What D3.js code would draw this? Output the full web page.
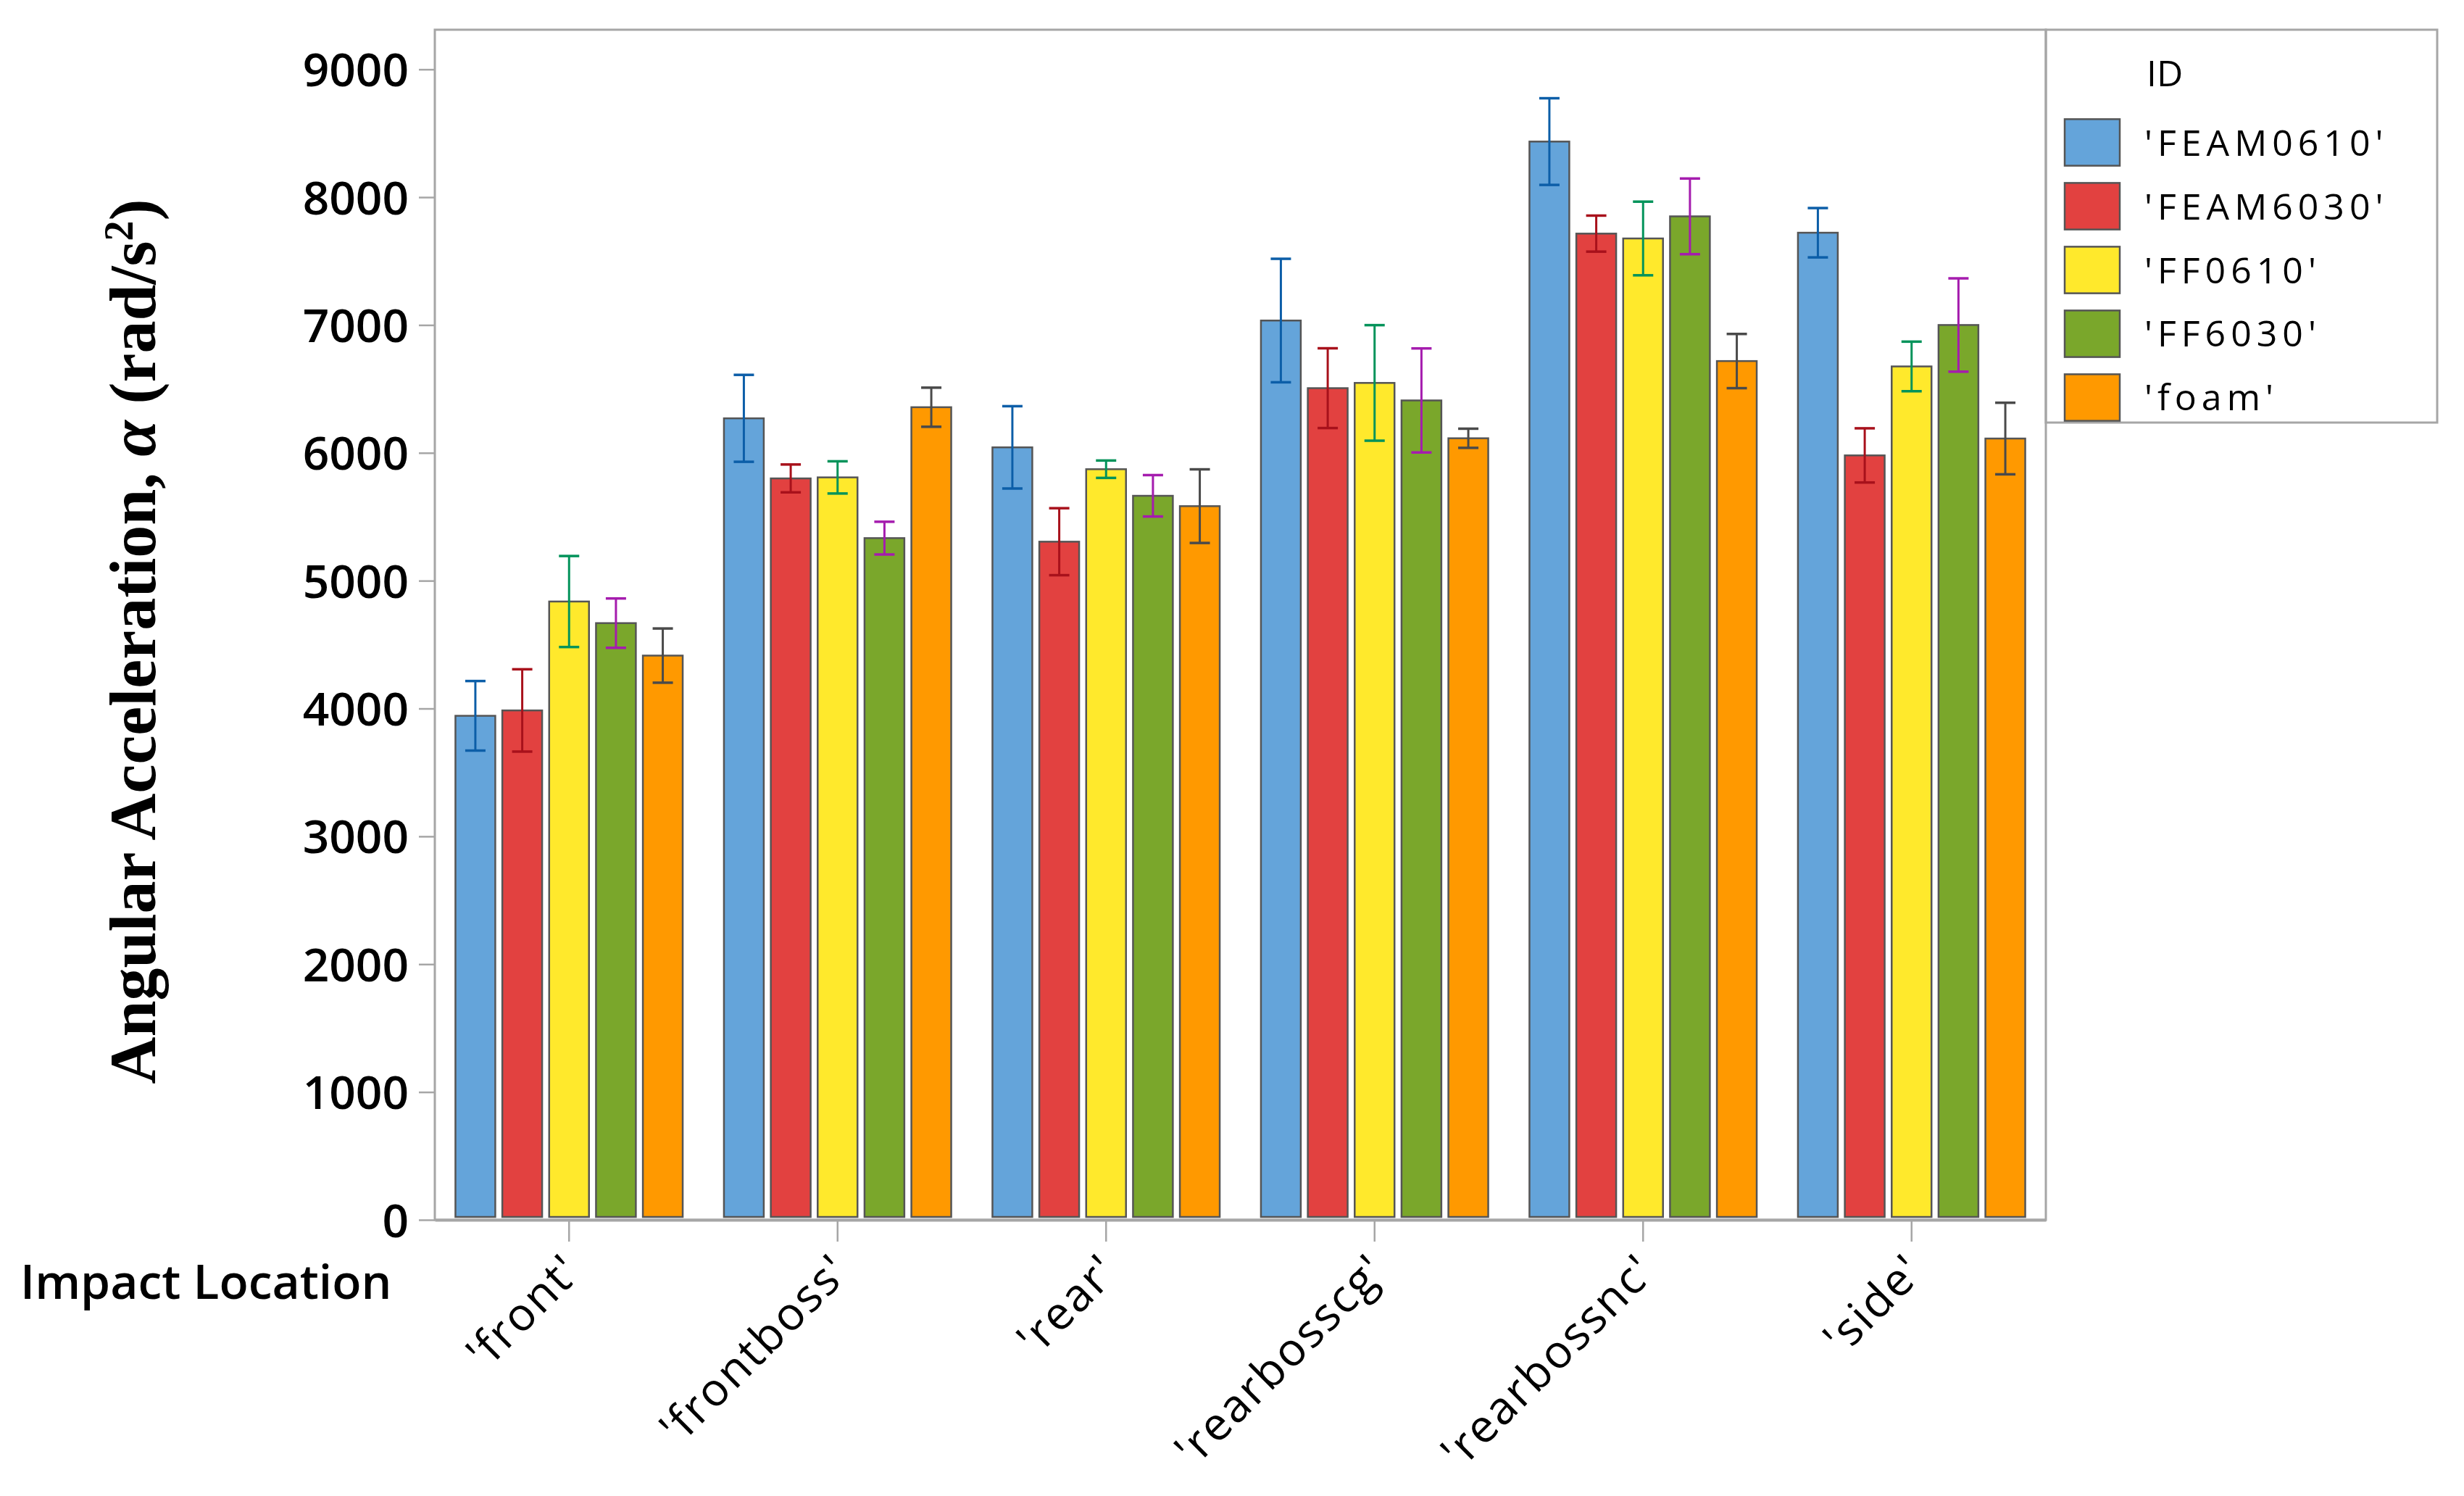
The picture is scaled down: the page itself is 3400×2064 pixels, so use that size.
<!DOCTYPE html>
<html lang="en">
<head>
  <meta charset="UTF-8">
  <title>Angular Acceleration by Impact Location</title>
  <style>
    body { margin: 0; background: #fff; }
    svg { display: block; }
    .tick-label { font-family: "Open Sans", sans-serif; font-weight: 600; font-size: 64px; fill: #000; }
    .cat-label { font-family: "Open Sans", sans-serif; font-size: 63px; letter-spacing: 2.5px; fill: #000; }
    .legend-text { font-family: "Open Sans", sans-serif; font-size: 50px; letter-spacing: 7px; fill: #000; }
    .frame { fill: none; stroke: #a6a6a6; stroke-width: 3px; }
    .bar { stroke: #555; stroke-width: 2.5px; }
  </style>
</head>
<body>
  <svg width="3400" height="2064"></svg>
  <script src="https://d3js.org/d3.v7.min.js"></script>
  <script>
    // categories along x, series ids
    const categories = ["'front'", "'frontboss'", "'rear'", "'rearbosscg'", "'rearbossnc'", "'side'"];
    const ids = ["'FEAM0610'", "'FEAM6030'", "'FF0610'", "'FF6030'", "'foam'"];

    // mean angular acceleration (rad/s^2), one array per ID
    const feam0610 = [3943, 6270, 6043, 7035, 8435, 7722];
    const feam6030 = [3985, 5800, 5305, 6506, 7715, 5980];
    const ff0610   = [4837, 5808, 5872, 6547, 7677, 6676];
    const ff6030   = [4668, 5333, 5664, 6410, 7850, 7000];
    const foam     = [4414, 6357, 5583, 6114, 6718, 6112];

    // half-width of the error bars
    const errFeam0610 = [272, 340, 322, 483, 339, 193];
    const errFeam6030 = [322, 109, 262, 312, 141, 212];
    const errFf0610   = [356, 126, 68, 452, 288, 194];
    const errFf6030   = [193, 128, 162, 407, 296, 365];
    const errFoam     = [212, 153, 288, 75, 212, 280];

    const yTicks = [0, 1000, 2000, 3000, 4000, 5000, 6000, 7000, 8000, 9000];

    const means = [feam0610, feam6030, ff0610, ff6030, foam];
    const errs = [errFeam0610, errFeam6030, errFf0610, errFf6030, errFoam];
    const fills = ["#64a4da", "#e24140", "#ffe92c", "#7aa72b", "#ff9900"];
    const errColors = ["#0c5ea8", "#a8111b", "#03935a", "#a51cae", "#4a4a4a"];

    const rows = [];
    categories.forEach((c, i) => {
      ids.forEach((id, j) => {
        rows.push({ cat: c, id: id, value: means[j][i], err: errs[j][i], k: j });
      });
    });

    const margin = { left: 600, top: 41, right: 2823, bottom: 1683 };
    const svg = d3.select("svg");

    const x0 = d3.scaleBand().domain(categories).range([margin.left, margin.right]).padding(0);
    const x1 = d3.scaleBand().domain(ids).range([0, x0.bandwidth()]).paddingInner(0.15).paddingOuter(0.44);
    const y = d3.scaleLinear().domain([0, 9310]).range([margin.bottom, margin.top]);

    // plot frame
    svg.append("rect").attr("class", "frame")
       .attr("x", margin.left).attr("y", margin.top)
       .attr("width", margin.right - margin.left).attr("height", margin.bottom - margin.top);

    // y axis
    const yAxis = svg.append("g")
      .attr("transform", `translate(${margin.left},0)`)
      .call(d3.axisLeft(y).tickValues(yTicks).tickFormat(d3.format("d")).tickSize(22).tickPadding(14));
    yAxis.select(".domain").remove();
    yAxis.selectAll(".tick line").attr("stroke", "#a6a6a6").attr("stroke-width", 2.5);
    yAxis.selectAll(".tick text").attr("class", "tick-label").attr("dy", "0.36em");

    // x axis
    const xAxis = svg.append("g")
      .attr("transform", `translate(0,${margin.bottom})`)
      .call(d3.axisBottom(x0).tickSizeInner(30).tickSizeOuter(0).tickFormat(""));
    xAxis.select(".domain").attr("stroke", "#a6a6a6").attr("stroke-width", 4);
    xAxis.selectAll(".tick line").attr("stroke", "#a6a6a6").attr("stroke-width", 2.5);

    svg.append("g").selectAll("text")
      .data(categories)
      .join("text")
      .attr("class", "cat-label")
      .attr("text-anchor", "end")
      .attr("transform", d => `translate(${x0(d) + x0.bandwidth() / 2 + 20},${margin.bottom + 74}) rotate(-45)`)
      .text(d => d);

    // bars
    const groups = svg.append("g").selectAll("g")
      .data(rows)
      .join("g")
      .attr("transform", d => `translate(${x0(d.cat) + x1(d.id)},0)`);

    groups.append("rect")
      .attr("class", "bar")
      .attr("x", 0)
      .attr("width", x1.bandwidth())
      .attr("y", d => y(d.value))
      .attr("height", d => y(0) - 4 - y(d.value))
      .attr("fill", d => fills[d.k]);

    // error bars
    const cap = 14;
    const cx = x1.bandwidth() / 2;
    groups.append("line")
      .attr("x1", cx).attr("x2", cx)
      .attr("y1", d => y(d.value + d.err)).attr("y2", d => y(d.value - d.err))
      .attr("stroke", d => errColors[d.k]).attr("stroke-width", 3);
    groups.append("line")
      .attr("x1", cx - cap).attr("x2", cx + cap)
      .attr("y1", d => y(d.value + d.err)).attr("y2", d => y(d.value + d.err))
      .attr("stroke", d => errColors[d.k]).attr("stroke-width", 3.5);
    groups.append("line")
      .attr("x1", cx - cap).attr("x2", cx + cap)
      .attr("y1", d => y(d.value - d.err)).attr("y2", d => y(d.value - d.err))
      .attr("stroke", d => errColors[d.k]).attr("stroke-width", 3.5);

    // axis titles
    const yTitle = svg.append("text")
      .attr("transform", "translate(214,885) rotate(-90)")
      .attr("text-anchor", "middle")
      .style("font-family", "'Liberation Serif', serif")
      .style("font-weight", "bold")
      .style("font-size", "90px");
    yTitle.append("tspan").text("Angular Acceleration, ");
    yTitle.append("tspan").style("font-style", "italic").text("α");
    yTitle.append("tspan").text(" (rad/s");
    yTitle.append("tspan").attr("baseline-shift", "super").style("font-size", "56px").text("2");
    yTitle.append("tspan").text(")");

    svg.append("text")
      .attr("x", 28).attr("y", 1792)
      .style("font-family", "'Open Sans', sans-serif")
      .style("font-weight", 600)
      .style("font-size", "66px")
      .text("Impact Location");

    // legend
    const lg = { x: 2823, y: 41, w: 540, h: 542 };
    svg.append("rect").attr("class", "frame")
       .attr("x", lg.x).attr("y", lg.y).attr("width", lg.w).attr("height", lg.h);
    svg.append("text").attr("class", "legend-text")
       .attr("x", 2962).attr("y", 119).style("letter-spacing", "0px").text("ID");

    const ly = d3.scaleBand().domain(ids).range([160, 585]).paddingInner(0.27).paddingOuter(0.05);
    const items = svg.append("g").selectAll("g")
      .data(ids)
      .join("g")
      .attr("transform", d => `translate(2849,${ly(d)})`);
    items.append("rect")
      .attr("width", 76).attr("height", ly.bandwidth())
      .attr("fill", (d, i) => fills[i])
      .attr("stroke", "#555").attr("stroke-width", 2.5);
    items.append("text").attr("class", "legend-text")
      .attr("x", 110).attr("y", ly.bandwidth() / 2).attr("dy", "0.36em")
      .text(d => d);
  </script>
</body>
</html>
